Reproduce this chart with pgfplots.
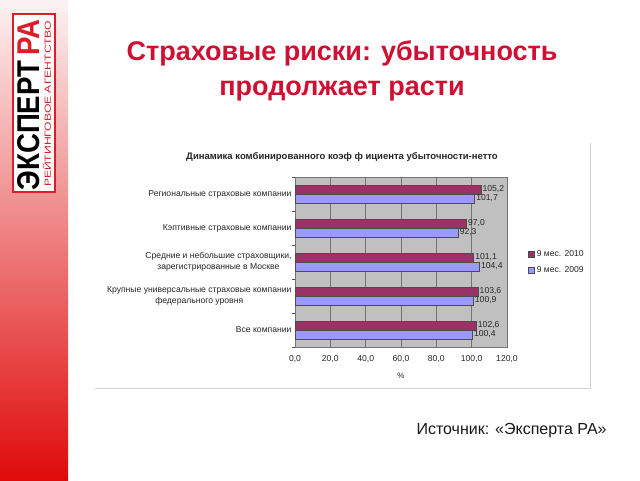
\documentclass[border=0pt]{standalone}
\usepackage{fontspec}
\setmainfont{Liberation Sans}
\usepackage{pgfplots}
\pgfplotsset{compat=1.18}
\usepackage{graphicx}
\definecolor{ttl}{RGB}{208,16,50}
\definecolor{c10}{RGB}{153,51,102}
\definecolor{c09}{RGB}{153,153,255}
\definecolor{plotbg}{RGB}{192,192,192}
\definecolor{logored}{RGB}{220,30,40}
\definecolor{stripTop}{RGB}{252,242,242}
\definecolor{stripMid}{RGB}{236,120,120}
\definecolor{stripBot}{RGB}{224,10,10}
\begin{document}
\begin{tikzpicture}[x=1pt,y=1pt]
\path[use as bounding box, fill=white] (0,0) rectangle (640,480);
\shade[top color=stripTop, middle color=stripMid, bottom color=stripBot] (0,0) rectangle (68,480);
% logo
\draw[logored, line width=1.5pt, fill=white] (13,288) rectangle (55,466);
\node[rotate=90, inner sep=0pt] at (28.5,375) {\resizebox{170pt}{22pt}{\bfseries ЭКСПЕРТ\,\textcolor{logored}{РА}}};
\node[rotate=90, inner sep=0pt] at (47,376) {\resizebox{166pt}{8pt}{\textcolor{logored}{РЕЙТИНГОВОЕ АГЕНТСТВО}}};
% title
\node[font=\fontsize{27}{35}\selectfont\bfseries, text=ttl, align=center] at (342,409) {Страховые риски: убыточность\\продолжает расти};
% chart frame
\draw[black!18] (95,92) -- (590,92) -- (590,337);
\node[font=\fontsize{9.5}{11}\selectfont\bfseries, text=black!85] at (342,323) {Динамика комбинированного коэф ф ициента убыточности-нетто};
\begin{axis}[
  at={(295pt,133pt)}, anchor=south west,
  scale only axis, width=212pt, height=170pt,
  xbar, bar width=9pt,
  xmin=0, xmax=120, xtick={0,20,...,120},
  ymin=-0.5, ymax=4.5, ytick={0,...,4},
  minor ytick={-0.5,0.5,...,4.5},
  major tick length=0pt, minor tick length=3pt, tick align=outside,
  ytick pos=left, xtick pos=bottom,
  tick style={black!70},
  yticklabels={Все компании, {Крупные универсальные страховые компании\\федерального уровня}, {Средние и небольшие страховщики,\\зарегистрированные в Москве}, Кэптивные страховые компании, Региональные страховые компании},
  yticklabel style={align=center, font=\fontsize{8.6}{11}\selectfont, text=black!85},
  xticklabel={\pgfmathprintnumber[fixed,fixed zerofill,precision=1,use comma,assume math mode=true]{\tick}},
  xticklabel style={font=\fontsize{8.6}{10}\selectfont, text=black!85, yshift=-5pt},
  xlabel={\%}, xlabel style={font=\fontsize{8}{9}\selectfont, text=black!85, yshift=-3pt},
  xmajorgrids, grid style={black!55, line width=0.4pt},
  axis line style={black!55},
  axis background/.style={fill=plotbg},
  nodes near coords={\pgfmathprintnumber[fixed,fixed zerofill,precision=1,use comma,assume math mode=true]{\pgfplotspointmeta}},
  nodes near coords style={font=\fontsize{8.6}{10}\selectfont, text=black!85, inner sep=1.5pt},
  legend style={at={(1.1,0.5)}, anchor=west, draw=none, fill=none, font=\fontsize{8.6}{10}\selectfont, row sep=4pt, inner sep=0pt, text=black!85},
  legend image code/.code={\draw[#1] (0pt,-3pt) rectangle (6pt,3pt);},
  clip=false,
]
\addplot[fill=c10, draw=black!70, bar shift=4.5pt] coordinates {(102.6,0) (103.6,1) (101.1,2) (97.0,3) (105.2,4)};
\addplot[fill=c09, draw=black!70, bar shift=-4.5pt] coordinates {(100.4,0) (100.9,1) (104.4,2) (92.3,3) (101.7,4)};
\legend{9 мес. 2010, 9 мес. 2009}
\end{axis}
\node[font=\fontsize{16}{18}\selectfont, anchor=west, text=black!90] at (413,49) {Источник: «Эксперта РА»};
\end{tikzpicture}
\end{document}
